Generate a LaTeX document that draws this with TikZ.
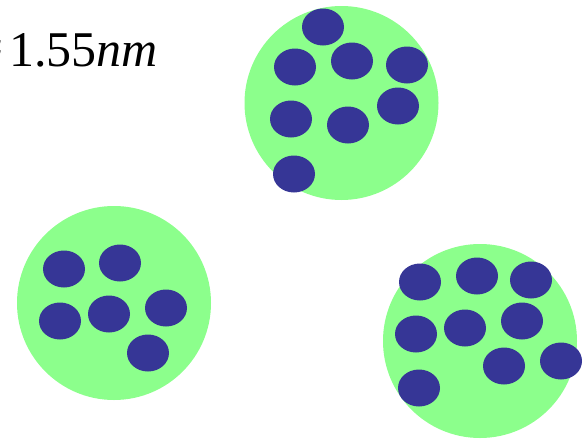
\documentclass[tikz,border=0pt]{standalone}
\usepackage{fontspec}
\setmainfont{Liberation Serif}
\usepackage{xcolor}
\definecolor{shellgreen}{HTML}{8CFF8C}
\definecolor{dotblue}{HTML}{363696}
\usetikzlibrary{positioning, shapes.geometric}

\begin{document}
\begin{tikzpicture}[
            x=1pt, y=-1pt,
            shell/.style={circle, fill=shellgreen, inner sep=0pt, minimum size=194pt},
            dot/.style={ellipse, fill=dotblue, inner sep=0pt, minimum width=42pt, minimum height=37pt}
        ]
            \useasboundingbox (0,0) rectangle (583,439);

            % Particles
            \node[shell] (top) at (341.5,103) {};
            \node[shell] (left) at (114,303) {};
            \node[shell] (right) at (480,341) {};

            % Dots inside the particles
            \foreach \px/\py [count=\i] in {323/27, 295/67, 352/61, 407/65, 291/119, 348/125, 398/106, 294/174}
                \node[dot] (top-\i) at (\px,\py) {};
            \foreach \px/\py [count=\i] in {64/269, 120/263, 60/321, 109/314, 166/308, 148/353}
                \node[dot] (left-\i) at (\px,\py) {};
            \foreach \px/\py [count=\i] in {420/282, 477/276, 531/280, 416/334, 465/328, 522/321, 504/366, 561/361, 419/388}
                \node[dot] (right-\i) at (\px,\py) {};

            % Size label
            \node[anchor=base east, inner sep=0pt] (size) at (158,66) {\fontsize{50}{55}\selectfont ≈\hspace{6pt}1.55\textit{nm}};
        \end{tikzpicture}
\end{document}
